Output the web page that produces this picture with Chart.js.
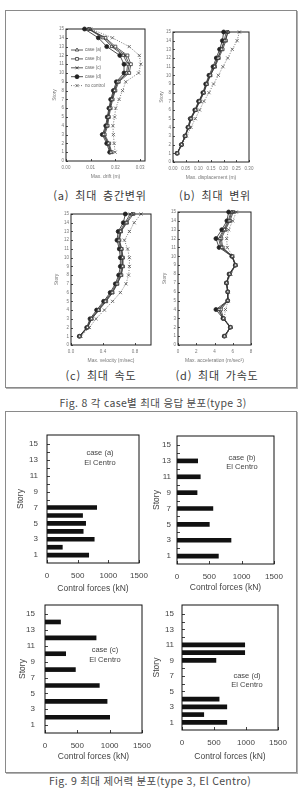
<!DOCTYPE html>
<html lang="ko">
<head>
<meta charset="utf-8">
<title>Fig. 8 / Fig. 9</title>
<script src="https://cdn.jsdelivr.net/npm/chart.js@4.4.1/dist/chart.umd.min.js"></script>
<style>
  html, body { margin: 0; padding: 0; background: #fff; }
  #page { position: relative; width: 301px; height: 790px; overflow: hidden;
          font-family: "Noto Sans CJK KR", "Noto Sans", sans-serif; color: #333; }
  .frame { position: absolute; border: 1px solid #8a8a8a; box-shadow: 1px 1px 0 #b0b0b0; box-sizing: border-box; }
  canvas { position: absolute; }
  .txt { position: absolute; white-space: nowrap; transform: translate(-50%, -50%); line-height: 1; }
  .sub { font-size: 11px; letter-spacing: 0.8px; word-spacing: 2px; color: #3a3a3a; }
  .cap { font-size: 10.5px; letter-spacing: 0.3px; color: #4a4a4a; }
  .note { font-family: "Liberation Sans", Arial, sans-serif; font-size: 7.5px; color: #444; }
</style>
</head>
<body>
<div id="page">
  <div class="frame" style="left:5px; top:10px; width:292px; height:378px;"></div>
  <div class="frame" style="left:5px; top:411px; width:292px; height:362px;"></div>

  <canvas id="c-drift"></canvas>
  <canvas id="c-disp"></canvas>
  <canvas id="c-vel"></canvas>
  <canvas id="c-acc"></canvas>
  <canvas id="c-fa"></canvas>
  <canvas id="c-fb"></canvas>
  <canvas id="c-fc"></canvas>
  <canvas id="c-fd"></canvas>

  <div class="txt sub" style="left:100px; top:195px;">(a) 최대 층간변위</div>
  <div class="txt sub" style="left:215px; top:195px;">(b) 최대 변위</div>
  <div class="txt sub" style="left:101px; top:375px;">(c) 최대 속도</div>
  <div class="txt sub" style="left:217px; top:375px;">(d) 최대 가속도</div>
  <div class="txt cap" style="left:153px; top:403px;">Fig. 8 각 case별 최대 응답 분포(type 3)</div>

  <div class="txt note" style="left:100px; top:453px;">case (a)</div>
  <div class="txt note" style="left:100px; top:463px;">El Centro</div>
  <div class="txt note" style="left:242px; top:458px;">case (b)</div>
  <div class="txt note" style="left:242px; top:467px;">El Centro</div>
  <div class="txt note" style="left:105px; top:650px;">case (c)</div>
  <div class="txt note" style="left:105px; top:660px;">El Centro</div>
  <div class="txt note" style="left:247px; top:676px;">case (d)</div>
  <div class="txt note" style="left:247px; top:685px;">El Centro</div>
  <div class="txt cap" style="left:150px; top:781px;">Fig. 9 최대 제어력 분포(type 3, El Centro)</div>
</div>

<script>
/* ── 데이터 (층 1 → 15) ── */
var stories = [1, 2, 3, 4, 5, 6, 7, 8, 9, 10, 11, 12, 13, 14, 15];
var caseNames = ['case (a)', 'case (b)', 'case (c)', 'case (d)', 'no control'];

// Max. drift (m)
var driftA  = [0.0182, 0.0172, 0.0153, 0.0166, 0.0171, 0.0178, 0.0186, 0.0197, 0.0210, 0.0245, 0.0250, 0.0232, 0.0185, 0.0150, 0.0090];
var driftB  = [0.0185, 0.0175, 0.0157, 0.0169, 0.0174, 0.0181, 0.0189, 0.0200, 0.0214, 0.0256, 0.0263, 0.0249, 0.0200, 0.0160, 0.0095];
var driftC  = [0.0180, 0.0170, 0.0151, 0.0164, 0.0170, 0.0177, 0.0184, 0.0195, 0.0208, 0.0250, 0.0256, 0.0240, 0.0192, 0.0155, 0.0092];
var driftD  = [0.0177, 0.0165, 0.0147, 0.0161, 0.0167, 0.0174, 0.0181, 0.0192, 0.0204, 0.0235, 0.0235, 0.0218, 0.0165, 0.0131, 0.0075];
var driftNC = [0.0199, 0.0195, 0.0192, 0.0190, 0.0197, 0.0201, 0.0215, 0.0229, 0.0242, 0.0294, 0.0303, 0.0297, 0.0256, 0.0188, 0.0100];

// Max. displacement (m)
var dispA  = [0.017, 0.034, 0.049, 0.061, 0.071, 0.089, 0.104, 0.121, 0.133, 0.147, 0.164, 0.178, 0.192, 0.205, 0.218];
var dispB  = [0.017, 0.034, 0.048, 0.062, 0.072, 0.090, 0.106, 0.122, 0.134, 0.148, 0.166, 0.181, 0.196, 0.209, 0.215];
var dispC  = [0.016, 0.033, 0.048, 0.060, 0.070, 0.088, 0.103, 0.120, 0.131, 0.145, 0.162, 0.176, 0.190, 0.202, 0.210];
var dispD  = [0.016, 0.033, 0.047, 0.059, 0.068, 0.086, 0.101, 0.118, 0.129, 0.142, 0.158, 0.171, 0.184, 0.195, 0.200];
var dispNC = [0.018, 0.036, 0.053, 0.071, 0.088, 0.105, 0.122, 0.142, 0.160, 0.179, 0.197, 0.216, 0.234, 0.253, 0.262];

// Max. velocity (m/sec)
var velA  = [0.108, 0.205, 0.255, 0.345, 0.430, 0.515, 0.575, 0.625, 0.645, 0.645, 0.630, 0.600, 0.620, 0.690, 0.760];
var velB  = [0.110, 0.208, 0.260, 0.350, 0.440, 0.520, 0.580, 0.630, 0.650, 0.650, 0.635, 0.605, 0.625, 0.700, 0.780];
var velC  = [0.106, 0.200, 0.248, 0.335, 0.420, 0.505, 0.565, 0.615, 0.635, 0.635, 0.620, 0.590, 0.610, 0.675, 0.740];
var velD  = [0.104, 0.196, 0.238, 0.320, 0.408, 0.490, 0.554, 0.596, 0.617, 0.617, 0.604, 0.575, 0.590, 0.654, 0.679];
var velNC = [0.125, 0.230, 0.313, 0.417, 0.520, 0.617, 0.687, 0.720, 0.730, 0.730, 0.708, 0.667, 0.730, 0.790, 0.875];

// Max. acceleration (m/sec²)
var accA  = [5.10, 5.75, 4.97, 4.50, 5.46, 5.46, 5.32, 5.66, 6.30, 5.95, 4.80, 4.60, 5.10, 5.60, 5.90];
var accB  = [5.12, 5.76, 5.00, 4.70, 5.47, 5.47, 5.33, 5.70, 6.30, 5.97, 4.90, 4.75, 5.20, 5.70, 6.05];
var accC  = [5.09, 5.74, 4.95, 4.40, 5.45, 5.45, 5.31, 5.62, 6.29, 5.92, 4.70, 4.45, 5.00, 5.50, 5.80];
var accD  = [5.07, 5.73, 4.93, 4.16, 5.44, 5.44, 5.30, 5.60, 6.28, 5.90, 4.50, 4.16, 4.80, 5.36, 5.55];
var accNC = [5.20, 5.80, 5.07, 5.20, 5.50, 5.50, 5.36, 5.80, 6.35, 6.00, 5.40, 5.33, 5.55, 6.00, 6.39];

// Control forces (kN) — 제어 장치가 있는 층만
var storiesFa = [1, 2, 3, 4, 5, 6, 7];
var forceFa   = [680, 250, 770, 590, 630, 580, 810];
var storiesFb = [1, 3, 5, 7, 9, 11, 13];
var forceFb   = [640, 835, 500, 555, 310, 360, 320];
var storiesFc = [2, 4, 6, 8, 10, 12, 14];
var forceFc   = [1000, 960, 840, 470, 320, 790, 240];
var storiesFd = [1, 2, 3, 4, 9, 10, 11];
var forceFd   = [700, 340, 700, 580, 530, 980, 980];

var forceTicks = [0, 500, 1000, 1500];

Chart.defaults.font.family = '"Liberation Sans", Arial, sans-serif';
Chart.defaults.animation = false;

/* ── 플러그인: 테두리 + 안쪽 눈금 ── */
var axisBox = {
  id: 'axisBox',
  afterDraw: function (chart, args, opts) {
    var a = chart.chartArea, ctx = chart.ctx;
    var sx = chart.scales.x, sy = chart.scales.y;
    ctx.save();
    ctx.strokeStyle = opts.color;
    ctx.lineWidth = opts.width;
    ctx.strokeRect(a.left, a.top, a.right - a.left, a.bottom - a.top);
    ctx.lineWidth = 0.8;
    ctx.beginPath();
    sy.ticks.forEach(function (t) {
      var py = Math.round(sy.getPixelForValue(t.value)) + 0.5;
      ctx.moveTo(a.left, py); ctx.lineTo(a.left + opts.tick, py);
    });
    sx.ticks.forEach(function (t) {
      var px = Math.round(sx.getPixelForValue(t.value)) + 0.5;
      ctx.moveTo(px, a.bottom); ctx.lineTo(px, a.bottom - opts.tick);
    });
    ctx.stroke();
    ctx.restore();
  }
};

/* ── 플러그인: 그래프 안 범례 ── */
var innerLegend = {
  id: 'innerLegend',
  afterDraw: function (chart, args, opts) {
    if (!opts.show) return;
    var a = chart.chartArea, ctx = chart.ctx;
    chart.data.datasets.forEach(function (ds, i) {
      var x = a.left + opts.left, y = a.top + opts.top + i * opts.gap;
      ctx.save();
      ctx.strokeStyle = ds.borderColor;
      ctx.lineWidth = ds.borderWidth;
      ctx.setLineDash(ds.borderDash || []);
      ctx.beginPath(); ctx.moveTo(x, y); ctx.lineTo(x + opts.len, y); ctx.stroke();
      ctx.setLineDash([]);
      ctx.fillStyle = ds.pointBackgroundColor;
      ctx.strokeStyle = ds.pointBorderColor;
      ctx.lineWidth = ds.pointBorderWidth;
      Chart.helpers.drawPoint(ctx, { pointStyle: ds.pointStyle, radius: ds.pointRadius, rotation: 0, borderWidth: ds.pointBorderWidth }, x + opts.len / 2, y);
      ctx.fillStyle = opts.color;
      ctx.font = opts.size + 'px "Liberation Sans", Arial, sans-serif';
      ctx.textBaseline = 'middle';
      ctx.fillText(ds.label, x + opts.len + 2, y);
      ctx.restore();
    });
  }
};

function pairs(ys, xs) {
  return ys.map(function (y, i) { return { x: xs[i], y: y }; });
}

// 캔버스 위치 + 축 크기 계산 (area 는 페이지 좌표)
function placeCanvas(id, area, yTitleX, xTitleY, titleSize, padT, padR) {
  var cv = document.getElementById(id);
  var half = titleSize * 1.2 / 2;
  var left = Math.round(yTitleX - half);
  var bottom = Math.round(xTitleY + half);
  var top = area.t - padT;
  var right = area.r + padR;
  cv.style.left = left + 'px';
  cv.style.top = top + 'px';
  cv.width = right - left;
  cv.height = bottom - top;
  return { cv: cv, yWidth: area.l - left, xHeight: bottom - area.b, padT: padT, padR: padR };
}

/* ── Fig. 8 : 층별 응답 분포 ── */
function profileChart(id, area, yTitleX, xTitleY, xTitle, xMax, xTicks, digits, series, showLegend) {
  var fit = placeCanvas(id, area, yTitleX, xTitleY, 5, 8, 8);
  var styles = [
    { pointStyle: 'triangle', fill: '#fff', color: '#333', dash: [] },
    { pointStyle: 'rect', fill: '#fff', color: '#333', dash: [] },
    { pointStyle: 'crossRot', fill: '#fff', color: '#333', dash: [] },
    { pointStyle: 'circle', fill: '#222', color: '#222', dash: [] },
    { pointStyle: 'crossRot', fill: '#fff', color: '#555', dash: [1, 1.5] }
  ];
  var datasets = series.map(function (vals, i) {
    var st = styles[i];
    return {
      label: caseNames[i],
      data: pairs(stories, vals),
      showLine: true,
      borderColor: st.color,
      borderWidth: 0.8,
      borderDash: st.dash,
      pointStyle: st.pointStyle,
      pointRadius: i === 4 ? 2.2 : 2,
      pointBorderWidth: 0.8,
      pointBackgroundColor: st.fill,
      pointBorderColor: st.color,
      clip: false
    };
  });
  return new Chart(fit.cv, {
    type: 'scatter',
    data: { datasets: datasets },
    options: {
      responsive: false,
      layout: { padding: { top: fit.padT, right: fit.padR, left: 0, bottom: 0 } },
      plugins: {
        legend: { display: false },
        tooltip: { enabled: false },
        axisBox: { color: '#222', width: 1, tick: 2 },
        innerLegend: { show: showLegend, left: 5, top: 21, gap: 8.9, len: 12, size: 4.5, color: '#666' }
      },
      scales: {
        x: {
          min: 0, max: xMax,
          grid: { display: false, drawTicks: false },
          border: { display: false },
          afterBuildTicks: function (s) { s.ticks = xTicks.map(function (v) { return { value: v }; }); },
          afterFit: function (s) { s.height = fit.xHeight; s.paddingLeft = 0; s.paddingRight = 0; },
          ticks: { autoSkip: false, maxRotation: 0, padding: 4, font: { size: 4.5 }, color: '#777',
                   callback: function (v) { return Number(v).toFixed(digits); } },
          title: { display: true, text: xTitle, padding: 0, font: { size: 5 }, color: '#777' }
        },
        y: {
          min: 0, max: 15,
          grid: { display: false, drawTicks: false },
          border: { display: false },
          afterBuildTicks: function (s) { s.ticks = [0].concat(stories).map(function (v) { return { value: v }; }); },
          afterFit: function (s) { s.width = fit.yWidth; s.paddingTop = 0; s.paddingBottom = 0; },
          ticks: { autoSkip: false, padding: 2, font: { size: 4.5 }, color: '#777' },
          title: { display: true, text: 'Story', padding: 0, font: { size: 5 }, color: '#777' }
        }
      }
    },
    plugins: [axisBox, innerLegend]
  });
}

/* ── Fig. 9 : 제어력 분포 ── */
function forceChart(id, area, yTitleX, xTitleY, yPad, ys, xs) {
  var fit = placeCanvas(id, area, yTitleX, xTitleY, 8.5, 8, 10);
  return new Chart(fit.cv, {
    type: 'bar',
    data: {
      datasets: [{
        data: pairs(ys, xs),
        backgroundColor: '#111',
        borderWidth: 0,
        barThickness: 4
      }]
    },
    options: {
      indexAxis: 'y',
      responsive: false,
      layout: { padding: { top: fit.padT, right: fit.padR, left: 0, bottom: 0 } },
      plugins: {
        legend: { display: false },
        tooltip: { enabled: false },
        axisBox: { color: '#111', width: 1, tick: 3 }
      },
      scales: {
        x: {
          type: 'linear', min: 0, max: 1500,
          grid: { display: false, drawTicks: false },
          border: { display: false },
          afterBuildTicks: function (s) { s.ticks = forceTicks.map(function (v) { return { value: v }; }); },
          afterFit: function (s) { s.height = fit.xHeight; s.paddingLeft = 0; s.paddingRight = 0; },
          ticks: { autoSkip: false, maxRotation: 0, padding: 8, font: { size: 8 }, color: '#444',
                   callback: function (v) { return String(v); } },
          title: { display: true, text: 'Control forces (kN)', padding: 0, font: { size: 8.5 }, color: '#444' }
        },
        y: {
          type: 'linear', min: 0.55, max: 15.6,
          grid: { display: false, drawTicks: false },
          border: { display: false },
          afterBuildTicks: function (s) { s.ticks = stories.map(function (v) { return { value: v }; }); },
          afterFit: function (s) { s.width = fit.yWidth; s.paddingTop = 0; s.paddingBottom = 0; },
          ticks: { autoSkip: false, padding: yPad, font: { size: 8 }, color: '#444',
                   callback: function (v) { return v % 2 ? String(v) : ''; } },
          title: { display: true, text: 'Story', padding: 0, font: { size: 8.5 }, color: '#444' }
        }
      }
    },
    plugins: [axisBox]
  });
}

profileChart('c-drift', { l: 66, t: 29, r: 145, b: 161 }, 55, 177, 'Max. drift (m)',
  0.032, [0, 0.01, 0.02, 0.03], 2, [driftA, driftB, driftC, driftD, driftNC], true);
profileChart('c-disp', { l: 173, t: 32, r: 249, b: 162 }, 162, 178, 'Max. displacement (m)',
  0.30, [0, 0.05, 0.10, 0.15, 0.20, 0.25, 0.30], 2, [dispA, dispB, dispC, dispD, dispNC], false);
profileChart('c-vel', { l: 71, t: 214, r: 151, b: 345 }, 57, 361, 'Max. velocity (m/sec)',
  1.0, [0, 0.4, 0.8], 1, [velA, velB, velC, velD, velNC], false);
profileChart('c-acc', { l: 178, t: 212, r: 251, b: 345 }, 165, 361, 'Max. acceleration (m/sec²)',
  8, [0, 2, 4, 6, 8], 0, [accA, accB, accC, accD, accNC], false);

forceChart('c-fa', { l: 47, t: 435, r: 139, b: 563 }, 21, 589, 9, storiesFa, forceFa);
forceChart('c-fb', { l: 177, t: 436, r: 274, b: 564 }, 157, 588, 6, storiesFb, forceFb);
forceChart('c-fc', { l: 45, t: 605, r: 142, b: 733 }, 23, 757, 10, storiesFc, forceFc);
forceChart('c-fd', { l: 182, t: 605, r: 278, b: 730 }, 157, 757, 8, storiesFd, forceFd);
</script>
</body>
</html>
